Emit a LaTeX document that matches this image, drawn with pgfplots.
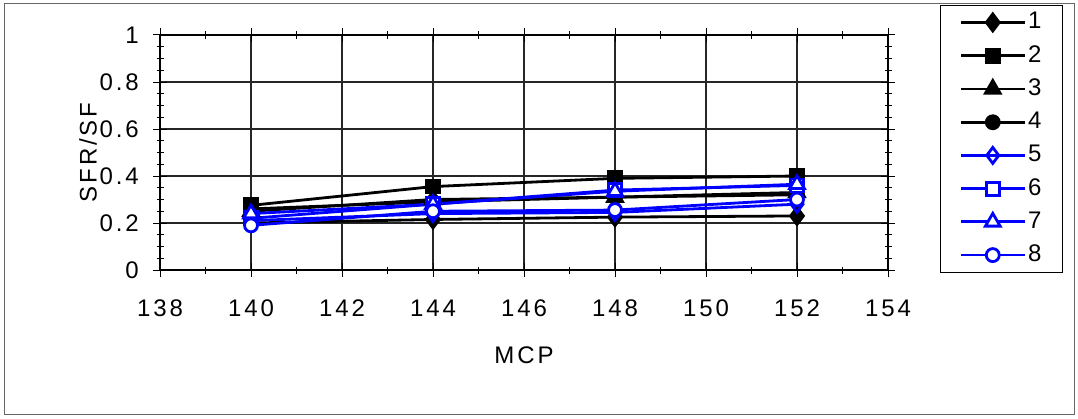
\documentclass[border=0pt]{standalone}
\usepackage{fontspec}
\setmainfont{Liberation Sans}[LetterSpace=12]
\usepackage{pgfplots}
\pgfplotsset{compat=1.18}
\definecolor{bl}{RGB}{0,0,255}
\begin{document}
\fontsize{24}{28}\selectfont
\begin{tikzpicture}[x=1pt,y=1pt]
\useasboundingbox (0,0) rectangle (1078,418);
\draw[black!60, line width=1pt] (4,4) rectangle (1074,414);
\begin{axis}[
  at={(160pt,148pt)}, anchor=south west,
  scale only axis, width=728pt, height=235pt,
  xmin=138, xmax=154, ymin=0, ymax=1,
  xtick={138,140,...,154}, ytick={0,0.2,...,1},
  minor x tick num=1, minor y tick num=3,
  tick align=center,
  major tick length=14pt, minor tick length=7pt,
  grid=major,
  major grid style={black!85, line width=1.1pt},
  axis line style={black, line width=1.2pt},
  every tick/.style={black, line width=1pt},
  /pgf/number format/assume math mode=true,
  ticklabel style={font=\fontsize{24}{28}\selectfont},
  xticklabel style={yshift=-15pt},
  yticklabel style={xshift=-6pt},
  xlabel={MCP}, ylabel={SFR/SF},
  label style={font=\fontsize{24}{28}\selectfont},
  xlabel style={at={(axis description cs:0.5,-0.362)}, anchor=center},
  ylabel style={at={(axis description cs:-0.099,0.5)}, anchor=center},
  legend style={at={(rel axis cs:1.0714,1.1277)}, anchor=north west,
    draw=black, line width=0.8pt, font=\fontsize{24}{28}\selectfont,
    row sep=9pt, inner xsep=19pt, inner ysep=5pt,
    /tikz/every even column/.append style={column sep=7pt}},
  legend cell align=left,
  legend image code/.code={\draw[mark repeat=2,mark phase=2,#1] plot coordinates {(0pt,0pt)(32pt,0pt)(64pt,0pt)};},
  lw/.style={line width=2.8pt, mark options={line width=2.8pt}},
]
\addplot[black, lw, mark=diamond*, mark size=8.5pt] coordinates {(140,0.20)(144,0.215)(148,0.225)(152,0.23)};
\addlegendentry{1}
\addplot[black, lw, mark=square*, mark size=6.5pt] coordinates {(140,0.275)(144,0.355)(148,0.39)(152,0.40)};
\addlegendentry{2}
\addplot[black, lw, mark=triangle*, mark size=8.5pt] coordinates {(140,0.25)(144,0.30)(148,0.31)(152,0.33)};
\addlegendentry{3}
\addplot[black, lw, mark=*, mark size=6.5pt] coordinates {(140,0.26)(144,0.29)(148,0.31)(152,0.32)};
\addlegendentry{4}
\addplot[bl, lw, mark=diamond, mark size=8pt, mark options={fill=white, draw=bl, line width=2.8pt}] coordinates {(140,0.21)(144,0.24)(148,0.245)(152,0.28)};
\addlegendentry{5}
\addplot[bl, lw, mark=square*, mark size=6.5pt, mark options={fill=white, draw=bl, line width=2.8pt}] coordinates {(140,0.22)(144,0.28)(148,0.34)(152,0.36)};
\addlegendentry{6}
\addplot[bl, lw, mark=triangle*, mark size=8.5pt, mark options={fill=white, draw=bl, line width=2.8pt}] coordinates {(140,0.24)(144,0.28)(148,0.335)(152,0.365)};
\addlegendentry{7}
\addplot[bl, lw, mark=*, mark size=6.5pt, mark options={fill=white, draw=bl, line width=2.8pt}] coordinates {(140,0.19)(144,0.25)(148,0.255)(152,0.30)};
\addlegendentry{8}
\end{axis}
\end{tikzpicture}
\end{document}
